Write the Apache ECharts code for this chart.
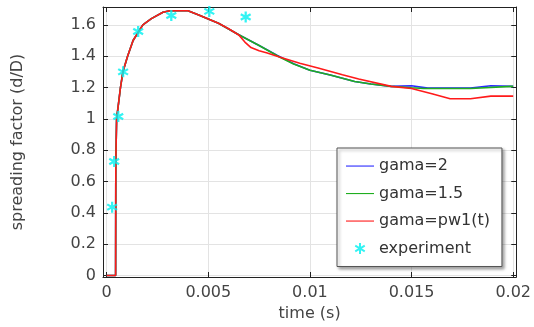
<!DOCTYPE html>
<html><head><meta charset="utf-8">
<script src="https://cdn.jsdelivr.net/npm/echarts@6/dist/echarts.min.js"></script>
<style>html,body{margin:0;padding:0;background:#fff}#c{width:534px;height:327px}</style>
</head><body><div id="c"></div>
<script>
var xTicks = [0, 0.005, 0.01, 0.015, 0.02];
var yTicks = [0, 0.2, 0.4, 0.6, 0.8, 1, 1.2, 1.4, 1.6];
var seriesNames = ['gama=2', 'gama=1.5', 'gama=pw1(t)', 'experiment'];

var riseT = [0, 0.00044, 0.00045, 0.00049, 0.00068, 0.0008, 0.00103, 0.0013, 0.00178, 0.0022, 0.00277, 0.0031, 0.004];
var riseV = [0, 0, 0.73, 1.0, 1.2, 1.3, 1.4, 1.5, 1.6, 1.64, 1.68, 1.69, 1.69];

var gama2T = [0.0045, 0.0055, 0.0065, 0.0075, 0.0084, 0.0092, 0.01, 0.011, 0.0122, 0.013, 0.014, 0.015, 0.0158, 0.0179, 0.0189, 0.02];
var gama2V = [1.665, 1.61, 1.537, 1.468, 1.405, 1.352, 1.31, 1.28, 1.238, 1.222, 1.207, 1.211, 1.196, 1.196, 1.211, 1.207];

var gama15T = [0.0045, 0.0055, 0.0065, 0.0075, 0.0085, 0.0092, 0.01, 0.011, 0.0122, 0.013, 0.014, 0.015, 0.0156, 0.0179, 0.0199, 0.02];
var gama15V = [1.665, 1.61, 1.537, 1.468, 1.395, 1.35, 1.31, 1.28, 1.238, 1.222, 1.207, 1.198, 1.194, 1.194, 1.207, 1.207];

var pw1T = [0.0045, 0.0055, 0.006, 0.0065, 0.0068, 0.0071, 0.0075, 0.0079, 0.0085, 0.0095, 0.0104, 0.0116, 0.0124, 0.014, 0.015, 0.016, 0.0169, 0.0179, 0.0189, 0.02];
var pw1V = [1.665, 1.61, 1.575, 1.535, 1.49, 1.455, 1.435, 1.42, 1.395, 1.355, 1.325, 1.281, 1.254, 1.207, 1.194, 1.16, 1.128, 1.128, 1.145, 1.145];

var expT = [0.00027, 0.00037, 0.00057, 0.00081, 0.00155, 0.00318, 0.00505, 0.00684];
var expV = [0.436, 0.727, 1.015, 1.30, 1.558, 1.66, 1.686, 1.65];

function pairs(t, v) { return t.map(function (x, i) { return [x, v[i]]; }); }
function withRise(t, v) { return pairs(riseT, riseV).concat(pairs(t, v)); }

var star = 'path://M-1,5 L1,5 L1,-5 L-1,-5 Z M3.83,3.37 L4.83,1.63 L-3.83,-3.37 L-4.83,-1.63 Z M-4.83,1.63 L-3.83,3.37 L4.83,-1.63 L3.83,-3.37 Z';
var legendStar = 'path://M-14,-7 L-14,-7 M14,7 L14,7 M-1,5.5 L1,5.5 L1,-5.5 L-1,-5.5 Z M4.26,3.63 L5.26,1.89 L-4.26,-3.63 L-5.26,-1.89 Z M-5.26,1.89 L-4.26,3.63 L5.26,-1.89 L4.26,-3.63 Z';
var lineIcon = 'path://M0,0 L0,0 M28,14 L28,14 M0,6.5 L28,6.5 L28,7.6 L0,7.6 Z';

var FONT = 'DejaVu Sans';
var axisCol = '#222';
var txtCol = '#444';

function xAx(pos, show) {
  return {
    type: 'value', position: pos, min: -0.00018, max: 0.02015,
    name: show ? 'time (s)' : '', nameLocation: 'middle', nameGap: 28,
    nameTextStyle: { fontFamily: FONT, fontSize: 16, color: txtCol },
    axisLine: { show: true, onZero: false, lineStyle: { color: axisCol, width: 1 } },
    axisTick: { show: true, inside: true, length: 5, customValues: xTicks, lineStyle: { color: axisCol } },
    axisLabel: { show: show, customValues: xTicks, margin: 8, fontFamily: FONT, fontSize: 16, color: txtCol },
    splitLine: { show: show, lineStyle: { color: '#e3e3e3', width: 1 } }
  };
}
function yAx(pos, show) {
  return {
    type: 'value', position: pos, min: -0.01, max: 1.714,
    name: show ? 'spreading factor (d/D)' : '', nameLocation: 'middle', nameGap: 77,
    nameTextStyle: { fontFamily: FONT, fontSize: 16, color: txtCol },
    axisLine: { show: true, onZero: false, lineStyle: { color: axisCol, width: 1 } },
    axisTick: { show: true, inside: true, length: 5, customValues: yTicks, lineStyle: { color: axisCol } },
    axisLabel: { show: show, customValues: yTicks, margin: 7, fontFamily: FONT, fontSize: 16, color: txtCol },
    splitLine: { show: show, lineStyle: { color: '#e3e3e3', width: 1 } }
  };
}

var lineCommon = { type: 'line', showSymbol: false, symbol: 'none', smooth: false, animation: false, lineStyle: { width: 1.6 } };

var chart = echarts.init(document.getElementById('c'), null, { renderer: 'canvas' });
chart.setOption({
  animation: false,
  backgroundColor: '#fff',
  grid: { left: 103, right: 15, top: 7, bottom: 50, containLabel: false },
  xAxis: [xAx('bottom', true), xAx('top', false)],
  yAxis: [yAx('left', true), yAx('right', false)],
  legend: {
    orient: 'vertical', left: 337, top: 148,
    data: [
      { name: seriesNames[0], icon: lineIcon },
      { name: seriesNames[1], icon: lineIcon },
      { name: seriesNames[2], icon: lineIcon },
      { name: seriesNames[3], icon: legendStar }
    ],
    itemWidth: 28, itemHeight: 14, itemGap: 11.5,
    padding: [10, 12, 10, 9],
    backgroundColor: '#fff', borderColor: '#555', borderWidth: 1,
    shadowColor: 'rgba(0,0,0,0.35)', shadowBlur: 3, shadowOffsetX: 2, shadowOffsetY: 2,
    itemStyle: { borderWidth: 0 },
    textStyle: { fontFamily: FONT, fontSize: 16, color: '#333' }
  },
  series: [
    Object.assign({}, lineCommon, { name: seriesNames[0], color: '#2a2aff', data: withRise(gama2T, gama2V), z: 2 }),
    Object.assign({}, lineCommon, { name: seriesNames[1], color: '#1fae1f', data: withRise(gama15T, gama15V), z: 3 }),
    Object.assign({}, lineCommon, { name: seriesNames[2], color: '#ff1a1a', data: withRise(pw1T, pw1V), z: 4 }),
    { type: 'scatter', name: seriesNames[3], color: '#00f0f0', symbol: star, symbolSize: 11, data: pairs(expT, expV), z: 5, clip: true }
  ]
});
</script></body></html>
